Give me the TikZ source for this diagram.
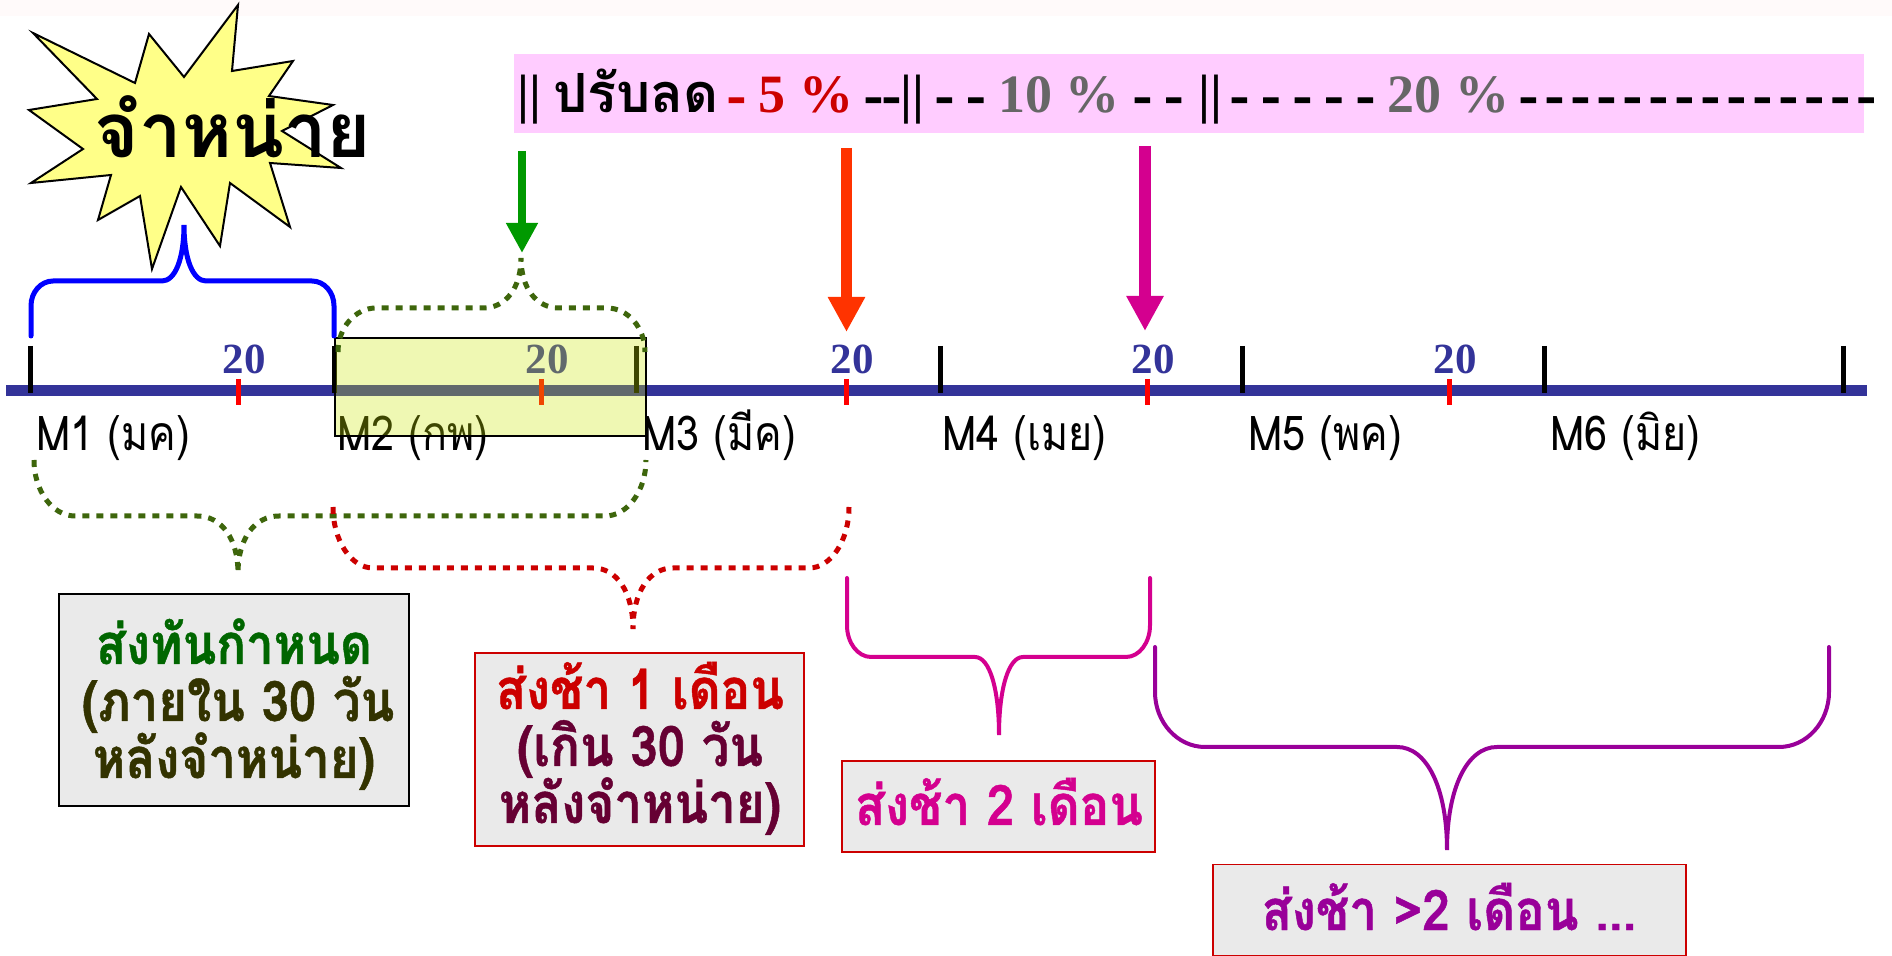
\documentclass[tikz,border=0pt]{standalone}
\usepackage{fontspec}
\setmainfont{Liberation Serif}
\newfontfamily\dashfont[FakeBold=2.5]{Liberation Serif}
\newfontfamily\thaifont[Script=Thai]{Loma}
\newfontfamily\thainarrow[Script=Thai,FakeStretch=0.86]{Loma}
\newfontfamily\thaibox[Script=Thai,FakeStretch=0.88,BoldFeatures={FakeBold=0.8}]{Loma}
\usetikzlibrary{arrows.meta}

\definecolor{barblue}{RGB}{51,51,153}
\definecolor{braceblue}{RGB}{0,0,255}
\definecolor{dotgreen}{RGB}{62,102,12}
\definecolor{dotred}{RGB}{204,0,0}
\definecolor{magbrace}{RGB}{212,0,143}
\definecolor{purpbrace}{RGB}{153,0,153}
\definecolor{arrowred}{RGB}{255,51,0}
\definecolor{arrowgreen}{RGB}{0,153,0}
\definecolor{headpink}{RGB}{255,204,255}
\definecolor{burst}{RGB}{255,255,136}
\definecolor{boxgray}{RGB}{234,234,234}
\definecolor{txtgreen}{RGB}{0,102,0}
\definecolor{txtolive}{RGB}{51,51,0}
\definecolor{txtred}{RGB}{204,0,0}
\definecolor{txtmaroon}{RGB}{102,0,51}
\definecolor{pctgray}{RGB}{102,102,102}
\definecolor{hilite}{RGB}{205,232,5}

% curly brace: style, xL, xR, y of ends, y of bar, tip x, tip y, corner width, corner share
\newcommand\curlybrace[9]{%
  \draw[#1] (#2,#4) -- (#2,{#5+#9*(#4-#5)})
    .. controls (#2,{#5+0.45*#9*(#4-#5)}) and ({#2+0.45*#8},#5) .. ({#2+#8},#5)
    -- ({#6-#8},#5)
    .. controls ({#6-0.4*#8},#5) and (#6,{#5+0.4*(#7-#5)}) .. (#6,#7)
    .. controls (#6,{#5+0.4*(#7-#5)}) and ({#6+0.4*#8},#5) .. ({#6+#8},#5)
    -- ({#3-#8},#5)
    .. controls ({#3-0.45*#8},#5) and (#3,{#5+0.45*#9*(#4-#5)}) .. (#3,{#5+#9*(#4-#5)})
    -- (#3,#4);}
% heavy hyphen of the penalty scale, and one close-set dash of the trailing run
\newcommand\hy{{\dashfont\bfseries -}}
\newcommand\dd{\hy\hspace{4pt}}

\tikzset{
  hdr/.style={font=\fontsize{27}{30}\selectfont\bfseries, inner sep=0pt, anchor=base west},
  hdrthai/.style={font=\thaifont\fontsize{27}{30}\selectfont\bfseries, inner sep=0pt, anchor=base west},
  day/.style={font=\fontsize{21.5}{24}\selectfont\bfseries, text=barblue, inner sep=0pt, anchor=base},
  month/.style={font=\thainarrow\fontsize{24}{27}\selectfont, inner sep=0pt, anchor=base west},
  boxtxt/.style={font=\thaibox\fontsize{28}{32}\selectfont\bfseries, inner sep=0pt, anchor=base},
  notebox/.style={fill=boxgray, inner sep=0pt},
  monthtick/.style={line width=2.5pt, black},
  daytick/.style={line width=2.5pt, red},
  solidbrace/.style={line width=2.5pt, line cap=round},
  dotbrace/.style={line width=2.5pt, dash pattern=on 3.5pt off 3.5pt},
}

\begin{document}
\begin{tikzpicture}[x=0.5pt,y=-0.5pt]
\useasboundingbox (0,0) rectangle (1892,956);
\fill[white] (0,0) rectangle (1892,956);
\fill[red!2] (0,0) rectangle (1892,16);

% penalty header band
\fill[headpink] (514,54) rectangle (1864,133);
\node[hdr] (h1) at (517,113) {||};
\node[hdrthai] (h2) at (553,113) {ปรับลด};
\node[hdr, text=txtred] (h3) at (727,113) {\hy\ 5 \%};
\node[hdr] (h4) at (864,113) {\hy\hy||};
\node[hdr] (h5) at (935,113) {\hy\ \hy\ \textcolor{pctgray}{10 \%} \hy\ \hy};
\node[hdr] (h6) at (1198,113) {||};
\node[hdr] (h7) at (1230,113) {\hy\ \hy\ \hy\ \hy\ \hy\ \textcolor{pctgray}{20 \%}};
\node[hdr] (h8) at (1519,113) {\dd\dd\dd\dd\dd\dd\dd\dd\dd\dd\dd\dd\dd\hy};

% discharge starburst
\filldraw[fill=burst, draw=black, line width=1pt, line join=miter]
  (33,33) -- (135,83) -- (149,34) -- (184,77) -- (238,5) -- (232,71) -- (293,61)
  -- (269,96) -- (333,105) -- (282,131) -- (341,168) -- (270,163) -- (290,227)
  -- (230,183) -- (220,246) -- (181,187) -- (152,269) -- (140,196) -- (98,220)
  -- (111,175) -- (31,183) -- (83,149) -- (29,110) -- (97,99) -- cycle;
\node[font=\thaifont\fontsize{38}{42}\selectfont\bfseries, inner sep=0pt, anchor=base] (burstlabel) at (233,158) {จำหน่าย};

% time line
\coordinate (tl0) at (6,390.5);
\coordinate (tl1) at (1867,390.5);
\draw[barblue, line width=5.5pt] (tl0) -- (tl1);
\foreach \x in {30,334,636,940,1242,1544,1843}
  \draw[monthtick] (\x,346) -- (\x,393);
\foreach \x in {238,541,846,1147,1449}{
  \draw[daytick] (\x,379) -- (\x,405);
  \node[day] at (\x+6,374) {20};
}
\node[month] (m1) at (36,451) {M1 (มค)};
\node[month] (m2) at (337,451) {M2 (กพ)};
\node[month] (m3) at (642,451) {M3 (มีค)};
\node[month] (m4) at (942,451) {M4 (เมย)};
\node[month] (m5) at (1248,451) {M5 (พค)};
\node[month] (m6) at (1550,451) {M6 (มิย)};

% highlighted second month
\fill[hilite, fill opacity=0.3] (335,338) rectangle (646,436);
\draw[black, line width=1pt] (335,338) rectangle (646,436);

% braces
\curlybrace{solidbrace, braceblue}{31}{334}{336}{281}{184}{225}{22}{0.45}
\curlybrace{dotbrace, dotgreen}{338}{645}{352}{308}{521}{258}{38}{1}
\curlybrace{dotbrace, dotgreen}{34}{646}{460}{516}{238}{573}{41}{1}
\curlybrace{dotbrace, dotred}{333}{849}{507}{568}{633}{629}{40}{1}
\curlybrace{solidbrace, line width=2pt, magbrace}{847}{1150}{578}{657}{999}{735}{24}{0.4}
\curlybrace{solidbrace, line width=2pt, purpbrace}{1155}{1829}{647}{747}{1447}{850}{50}{0.55}

% penalty arrows
\coordinate (ga0) at (522,151); \coordinate (ga1) at (522,253);
\coordinate (ra0) at (846.5,148); \coordinate (ra1) at (846.5,332);
\coordinate (pa0) at (1145,146); \coordinate (pa1) at (1145,331);
\draw[arrowgreen, line width=4pt, -{Triangle[length=15pt,width=15pt]}] (ga0) -- (ga1);
\draw[arrowred, line width=5.5pt, -{Triangle[length=17.5pt,width=17.5pt]}] (ra0) -- (ra1);
\draw[magbrace, line width=6pt, -{Triangle[length=17.5pt,width=17.5pt]}] (pa0) -- (pa1);

% result boxes
\node[notebox, draw=black, line width=1pt, minimum width=175pt, minimum height=106pt] (b1) at (234,700) {};
\node[boxtxt, text=txtgreen] (b1a) at (234,664) {ส่งทันกำหนด};
\node[boxtxt, text=txtolive] (b1b) at (238,721) {(ภายใน 30 วัน};
\node[boxtxt, text=txtolive] (b1c) at (234,778) {หลังจำหน่าย)};

\node[notebox, draw=dotred, line width=0.8pt, minimum width=164.5pt, minimum height=96.5pt] (b2) at (639.5,749.5) {};
\node[boxtxt, text=txtred] (b2a) at (640,709) {ส่งช้า 1 เดือน};
\node[boxtxt, text=txtmaroon] (b2b) at (640,766) {(เกิน 30 วัน};
\node[boxtxt, text=txtmaroon] (b2c) at (640,823) {หลังจำหน่าย)};

\node[notebox, draw=dotred, line width=0.8pt, minimum width=156.5pt, minimum height=45.5pt] (b3) at (998.5,806.5) {};
\node[boxtxt, text=magbrace] (b3a) at (999,825) {ส่งช้า 2 เดือน};

\node[notebox, draw=dotred, line width=0.8pt, minimum width=236.5pt, minimum height=45.5pt] (b4) at (1449.5,910) {};
\node[boxtxt, text=purpbrace] (b4a) at (1449,930) {ส่งช้า >2 เดือน ...};
\end{tikzpicture}
\end{document}
